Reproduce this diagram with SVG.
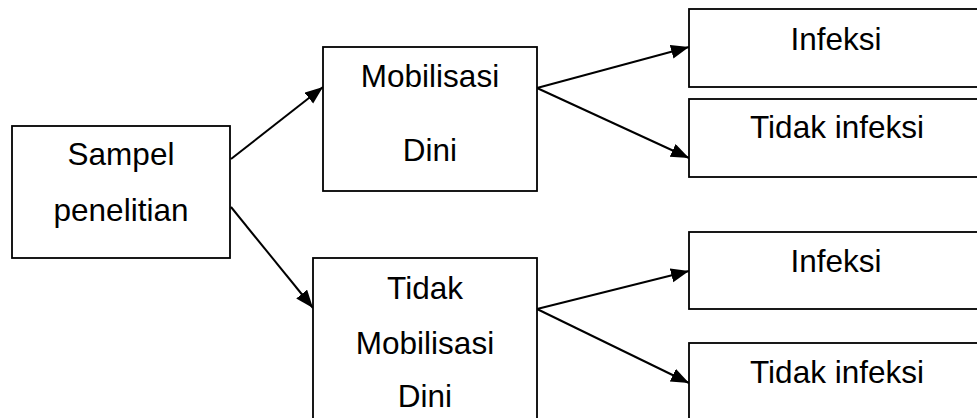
<svg xmlns="http://www.w3.org/2000/svg" width="977" height="418" viewBox="0 0 977 418">
  <style>
    .box { fill: #ffffff; stroke: #000000; stroke-width: 1.8; }
    .lbl { font-family: "Liberation Sans", Arial, sans-serif; font-size: 31.5px; fill: #000000; text-anchor: middle; }
    .edge { stroke: #000000; stroke-width: 2; fill: none; marker-end: url(#arrow); }
  </style>
  <defs>
    <marker id="arrow" markerUnits="userSpaceOnUse" markerWidth="20" markerHeight="16" refX="18" refY="7" orient="auto">
      <path d="M0,0 L18,7 L0,14 Z" fill="#000000"/>
    </marker>
  </defs>

  <rect width="977" height="418" fill="#ffffff"/>

  <g id="connectors">
    <line class="edge" x1="231" y1="159" x2="323" y2="87"/>
    <line class="edge" x1="231" y1="207" x2="313" y2="308"/>
    <line class="edge" x1="537" y1="88" x2="689" y2="47"/>
    <line class="edge" x1="537" y1="88" x2="689" y2="158"/>
    <line class="edge" x1="537" y1="309" x2="689" y2="271"/>
    <line class="edge" x1="537" y1="309" x2="689" y2="383"/>
  </g>

  <g id="sampel">
    <rect class="box" x="12" y="126" width="218" height="132"/>
    <text class="lbl" x="121" y="165">Sampel</text>
    <text class="lbl" x="121" y="221">penelitian</text>
  </g>

  <g id="mobilisasi-dini">
    <rect class="box" x="323" y="47" width="214" height="144"/>
    <text class="lbl" x="430" y="87">Mobilisasi</text>
    <text class="lbl" x="430" y="161">Dini</text>
  </g>

  <g id="tidak-mobilisasi-dini">
    <rect class="box" x="313" y="258" width="224" height="170"/>
    <text class="lbl" x="425" y="299">Tidak</text>
    <text class="lbl" x="425" y="354">Mobilisasi</text>
    <text class="lbl" x="425" y="407">Dini</text>
  </g>

  <g id="infeksi-1">
    <rect class="box" x="689" y="9" width="294" height="78"/>
    <text class="lbl" x="836" y="50">Infeksi</text>
  </g>

  <g id="tidak-infeksi-1">
    <rect class="box" x="689" y="99" width="294" height="78"/>
    <text class="lbl" x="837" y="138">Tidak infeksi</text>
  </g>

  <g id="infeksi-2">
    <rect class="box" x="689" y="232" width="294" height="77"/>
    <text class="lbl" x="836" y="272">Infeksi</text>
  </g>

  <g id="tidak-infeksi-2">
    <rect class="box" x="689" y="343" width="294" height="85"/>
    <text class="lbl" x="837" y="383">Tidak infeksi</text>
  </g>
</svg>
